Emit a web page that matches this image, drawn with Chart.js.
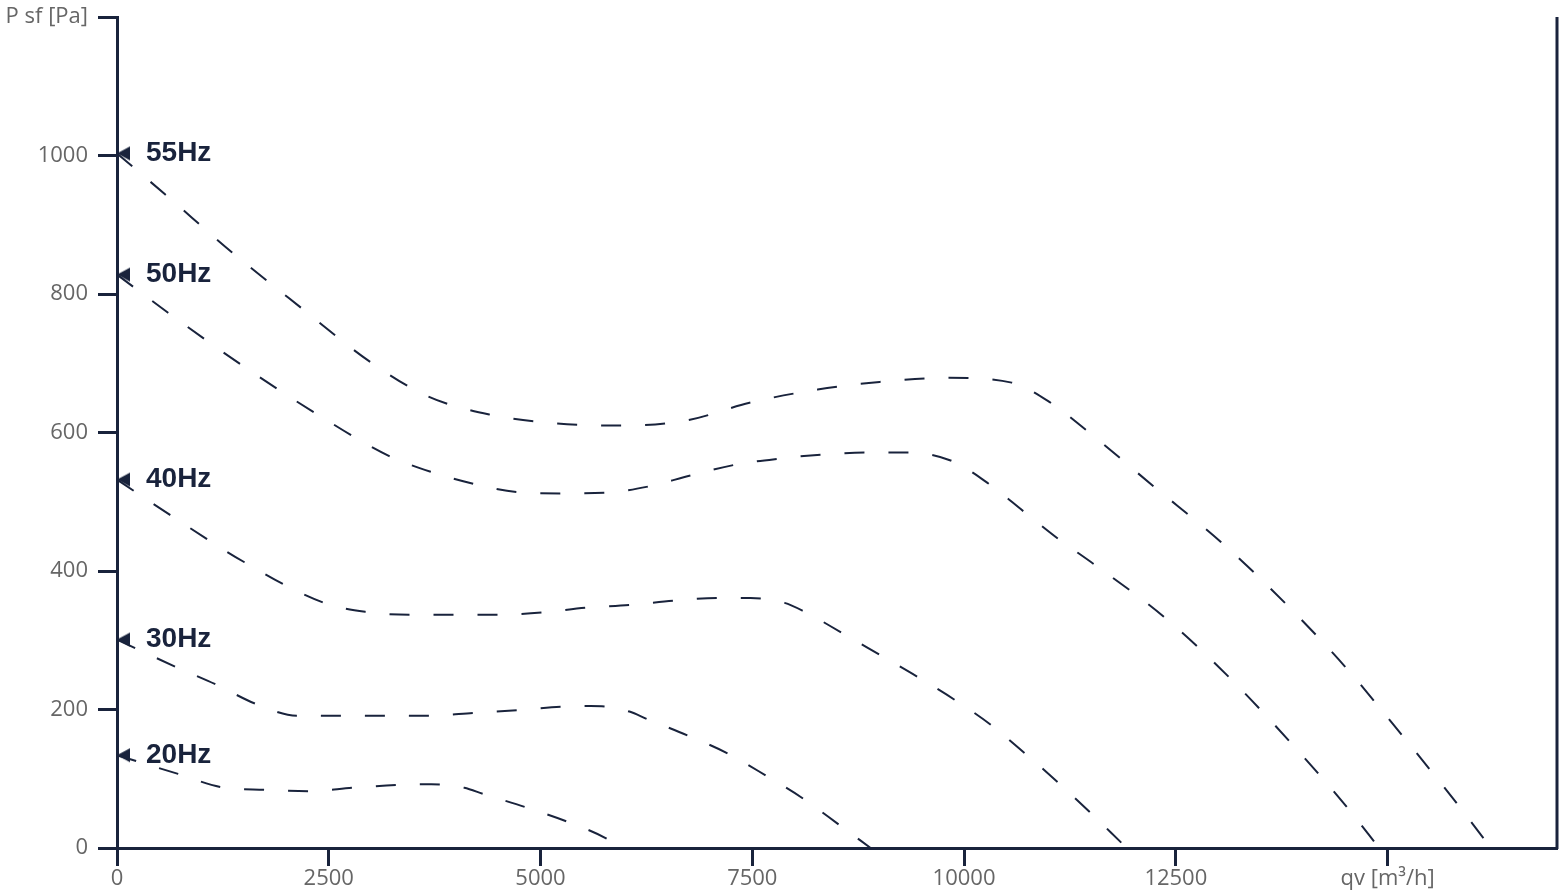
<!DOCTYPE html>
<html>
<head>
<meta charset="utf-8">
<script src="https://cdn.jsdelivr.net/npm/chart.js@4"></script>
<style>
  html, body { margin: 0; padding: 0; background: #fff; }
  #wrap { width: 1568px; height: 896px; }
</style>
</head>
<body>
<div id="wrap"><canvas id="fanChart"></canvas></div>
<script>
// curve data (qv in m3/h, P sf in Pa)
const curveNames = ["55Hz", "50Hz", "40Hz", "30Hz", "20Hz"];

const qv55 = [0, 567, 1359, 2174, 2989, 3674, 4395, 5199, 5943, 6746, 7467, 8271, 9003, 9818, 10563, 11023, 11437, 12240, 13032, 13788, 14497, 15170, 15820, 16220];
const p55  = [1003, 944, 860, 780, 702, 652, 626, 613, 610, 618, 643, 662, 673, 679, 672, 643, 604, 522, 442, 354, 262, 163, 64, 0];

const qv50 = [0, 603, 1453, 2328, 3214, 3710, 4206, 4714, 5234, 5766, 6274, 6770, 7278, 7798, 8306, 8826, 9346, 9854, 10291, 10704, 11106, 11531, 12358, 13126, 13835, 14520, 14900];
const p50  = [828, 773, 699, 629, 566, 543, 526, 514, 512, 513, 522, 538, 553, 562, 568, 571, 571, 559, 526, 486, 447, 410, 334, 247, 155, 59, 0];

const qv40 = [0, 626, 1500, 2422, 2930, 3450, 3970, 4502, 5021, 5529, 6049, 6569, 7089, 7479, 7881, 8105, 8554, 9003, 9452, 9889, 10315, 10716, 11106, 11484, 11862, 11921];
const p40  = [532, 481, 413, 355, 341, 337, 337, 337, 340, 347, 351, 357, 361, 361, 354, 342, 311, 279, 247, 214, 178, 137, 95, 52, 7, 0];

const qv30 = [0, 685, 1170, 1642, 2127, 2658, 3178, 3698, 4206, 4726, 5258, 5589, 5777, 6049, 6262, 6746, 7219, 7668, 8105, 8530, 8897];
const p30  = [301, 262, 236, 208, 191, 191, 191, 191, 195, 199, 204, 205, 204, 197, 186, 162, 136, 104, 71, 33, 0];

const qv20 = [0, 721, 1229, 1749, 2268, 2788, 3308, 3710, 4100, 4324, 4820, 5317, 5789, 5950];
const p20  = [134, 107, 88, 84, 82, 87, 91, 92, 87, 78, 59, 38, 13, 0];

const xTicks = [0, 2500, 5000, 7500, 10000, 12500, 15000];
const yTicks = [0, 200, 400, 600, 800, 1000, 1200];

const navy = "#19233c";

// left pointing triangle whose tip sits at the point itself
function makeArrow() {
   const c = document.createElement("canvas");
   c.width = 28;
   c.height = 28;
   const g = c.getContext("2d");
   g.fillStyle = navy;
   g.beginPath();
   g.moveTo(14, 14);
   g.lineTo(27, 7);
   g.lineTo(27, 21);
   g.closePath();
   g.fill();
   return c;
}
const arrow = makeArrow();

function toPoints(xs, ys) {
   return xs.map((x, i) => ({ x: x, y: ys[i] }));
}

const series = [
   toPoints(qv55, p55),
   toPoints(qv50, p50),
   toPoints(qv40, p40),
   toPoints(qv30, p30),
   toPoints(qv20, p20),
];

const datasets = series.map((pts, i) => ({
   label: curveNames[i],
   data: pts,
   borderColor: navy,
   borderWidth: 2,
   borderDash: [20, 24],
   borderCapStyle: "butt",
   cubicInterpolationMode: "monotone",
   fill: false,
   pointStyle: arrow,
   pointRadius: (ctx) => (ctx.dataIndex === 0 ? 7 : 0),
   pointHoverRadius: 0,
   clip: false,
}));

// writes the frequency name next to the first point of each curve
const curveLabels = {
   id: "curveLabels",
   afterDatasetsDraw(chart) {
      const ctx = chart.ctx;
      ctx.save();
      ctx.font = "bold 28px 'Liberation Sans', Arial, sans-serif";
      ctx.fillStyle = navy;
      ctx.textAlign = "left";
      ctx.textBaseline = "middle";
      chart.data.datasets.forEach((ds, i) => {
         const first = chart.getDatasetMeta(i).data[0];
         ctx.fillText(ds.label, first.x + 29, first.y);
      });
      ctx.restore();
   },
};

// right hand frame line
const rightFrame = {
   id: "rightFrame",
   afterDraw(chart) {
      const a = chart.chartArea;
      const ctx = chart.ctx;
      ctx.save();
      ctx.strokeStyle = navy;
      ctx.lineWidth = 3;
      ctx.beginPath();
      ctx.moveTo(a.right, a.top);
      ctx.lineTo(a.right, a.bottom + 1);
      ctx.stroke();
      ctx.restore();
   },
};

const tickFont = { family: "'Open Sans', sans-serif", size: 22 };

new Chart(document.getElementById("fanChart"), {
   type: "line",
   data: { datasets: datasets },
   options: {
      responsive: true,
      maintainAspectRatio: false,
      animation: false,
      layout: { padding: { top: 17, right: 11, left: 0, bottom: 0 } },
      plugins: {
         legend: { display: false },
         tooltip: { enabled: false },
      },
      scales: {
         x: {
            type: "linear",
            min: 0,
            max: 17000,
            afterBuildTicks: (scale) => {
               scale.ticks = xTicks.map((v) => ({ value: v }));
            },
            afterFit: (scale) => {
               scale.height = 48;
               scale.paddingRight = 0;
               scale.paddingLeft = 0;
            },
            grid: {
               drawOnChartArea: false,
               drawTicks: true,
               tickLength: 18,
               tickWidth: 3,
               tickColor: navy,
            },
            border: { color: navy, width: 3 },
            ticks: {
               color: "#666",
               font: tickFont,
               padding: 0,
               maxRotation: 0,
               callback: (v) => (v === 15000 ? "qv [m³/h]" : String(v)),
            },
         },
         y: {
            type: "linear",
            min: 0,
            max: 1200,
            afterBuildTicks: (scale) => {
               scale.ticks = yTicks.map((v) => ({ value: v }));
            },
            afterFit: (scale) => {
               scale.width = 117;
               scale.paddingTop = 0;
               scale.paddingBottom = 0;
            },
            grid: {
               drawOnChartArea: false,
               drawTicks: true,
               tickLength: 19,
               tickWidth: 3,
               tickColor: navy,
            },
            border: { color: navy, width: 3 },
            ticks: {
               color: "#666",
               font: tickFont,
               padding: 10,
               callback: (v) => (v === 1200 ? "P sf [Pa]" : String(v)),
            },
         },
      },
   },
   plugins: [curveLabels, rightFrame],
});
</script>
</body>
</html>
